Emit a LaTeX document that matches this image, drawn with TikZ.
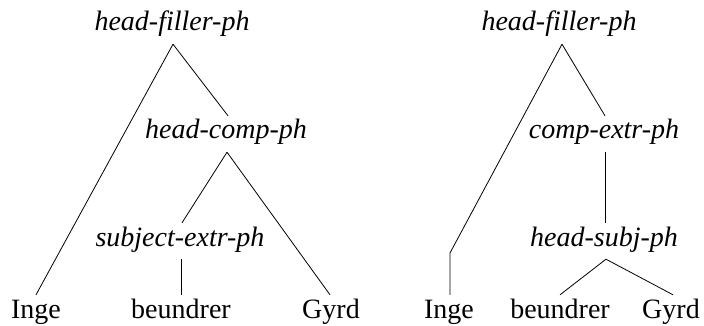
\documentclass[tikz,border=0pt]{standalone}
\usepackage{fontspec}
\setmainfont{Liberation Serif}
\begin{document}
\begin{tikzpicture}[x=1pt,y=-1pt,
  lab/.style={anchor=base,inner xsep=0pt,inner ysep=3pt,text height=20pt,text depth=10pt,font=\fontsize{28}{34}\selectfont},
  ph/.style={lab,font=\fontsize{28}{34}\selectfont\itshape},
  edge/.style={line width=0.8pt}]
\useasboundingbox (0,0) rectangle (704,326);
% left tree
\node[ph] (hf1) at (172,31) {head-filler-ph};
\node[ph] (hc1) at (226,139) {head-comp-ph};
\node[ph] (se1) at (180,246) {subject-extr-ph};
\node[lab] (i1) at (36,318) {Inge};
\node[lab] (b1) at (181,318) {beundrer};
\node[lab] (g1) at (331,318) {Gyrd};
\draw[edge] ([xshift=1pt]hf1.south) -- (i1.north);
\draw[edge] ([xshift=1pt]hf1.south) -- ([xshift=2pt]hc1.north);
\draw[edge] ([xshift=1pt]hc1.south) -- ([xshift=2pt]se1.north);
\draw[edge] ([xshift=1pt]hc1.south) -- ([xshift=-1pt]g1.north);
\draw[edge] ([xshift=1pt]se1.south) -- (b1.north);
% right tree
\node[ph] (hf2) at (559,31) {head-filler-ph};
\node[ph] (ce2) at (604,139) {comp-extr-ph};
\node[ph] (hs2) at (604,246) {head-subj-ph};
\node[lab] (i2) at (449,318) {Inge};
\node[lab] (b2) at (560,318) {beundrer};
\node[lab] (g2) at (671,318) {Gyrd};
\coordinate (bend) at (450,253);
\draw[edge] ([xshift=3pt]hf2.south) -- (bend) -- ([xshift=1pt]i2.north);
\draw[edge] ([xshift=3pt]hf2.south) -- ([xshift=1pt]ce2.north);
\draw[edge] ([xshift=1pt]ce2.south) -- ([xshift=1pt]hs2.north);
\draw[edge] ([xshift=2pt]hs2.south) -- (b2.north);
\draw[edge] ([xshift=2pt]hs2.south) -- ([xshift=2pt]g2.north);
\end{tikzpicture}
\end{document}
